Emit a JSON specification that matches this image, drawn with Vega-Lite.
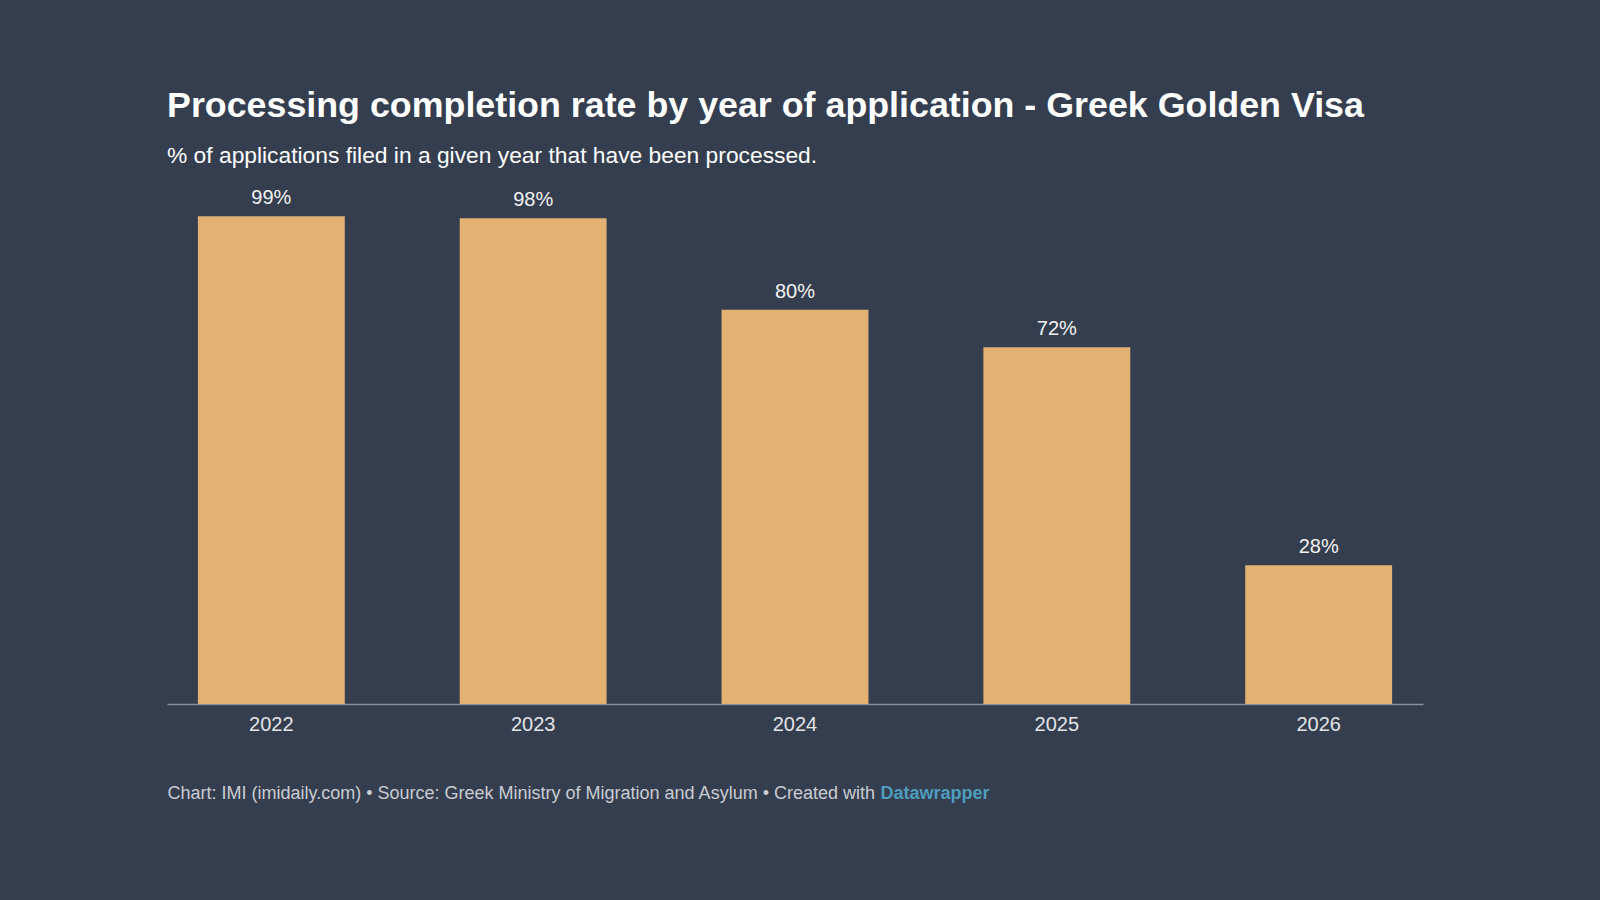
{
  "$schema": "https://vega.github.io/schema/vega-lite/v6.json",
  "width": 1256,
  "height": 494,
  "autosize": "none",
  "padding": {"left": 167, "top": 210, "right": 177, "bottom": 196},
  "background": "#343e4f",
  "config": {
    "view": {"stroke": null},
    "font": "Liberation Sans"
  },
  "title": {
    "text": "Processing completion rate by year of application - Greek Golden Visa",
    "subtitle": "% of applications filed in a given year that have been processed.",
    "anchor": "start",
    "frame": "group",
    "fontSize": 35.8,
    "fontWeight": "bold",
    "color": "#ffffff",
    "subtitleFontSize": 22.8,
    "subtitleColor": "#ffffff",
    "subtitlePadding": 21,
    "offset": 19
  },
  "data": {
    "values": [
      {"year": "2022", "rate": 0.9875},
      {"year": "2023", "rate": 0.9834},
      {"year": "2024", "rate": 0.798},
      {"year": "2025", "rate": 0.722},
      {"year": "2026", "rate": 0.281}
    ]
  },
  "encoding": {
    "x": {
      "field": "year",
      "type": "nominal",
      "sort": null,
      "scale": {"paddingInner": 0.439, "paddingOuter": 0.118},
      "axis": {
        "labelAngle": 0,
        "ticks": false,
        "domainColor": "#8a909a",
        "domainWidth": 1.5,
        "labelFontSize": 20,
        "labelColor": "#e2e4e8",
        "labelPadding": 10,
        "title": "Chart: IMI (imidaily.com) • Source: Greek Ministry of Migration and Asylum • Created with",
        "titleFontSize": 18,
        "titleFontWeight": "normal",
        "titleColor": "#c9ccd2",
        "titleX": 0,
        "titleY": 94,
        "titleAlign": "left",
        "titleBaseline": "alphabetic"
      }
    },
    "y": {
      "field": "rate",
      "type": "quantitative",
      "scale": {"domain": [0, 1]},
      "axis": {
        "labels": false,
        "ticks": false,
        "domain": false,
        "grid": false,
        "title": "Datawrapper",
        "titleAngle": 0,
        "titleX": 713,
        "titleY": 588,
        "titleAlign": "left",
        "titleBaseline": "alphabetic",
        "titleColor": "#4f9dbd",
        "titleFontSize": 18,
        "titleFontWeight": "bold"
      }
    }
  },
  "layer": [
    {
      "mark": {"type": "bar", "color": "#e3b273"}
    },
    {
      "mark": {"type": "text", "baseline": "alphabetic", "dy": -12, "fontSize": 20, "color": "#f2f2f2"},
      "encoding": {
        "text": {"field": "rate", "type": "quantitative", "format": ".0%"}
      }
    }
  ]
}
